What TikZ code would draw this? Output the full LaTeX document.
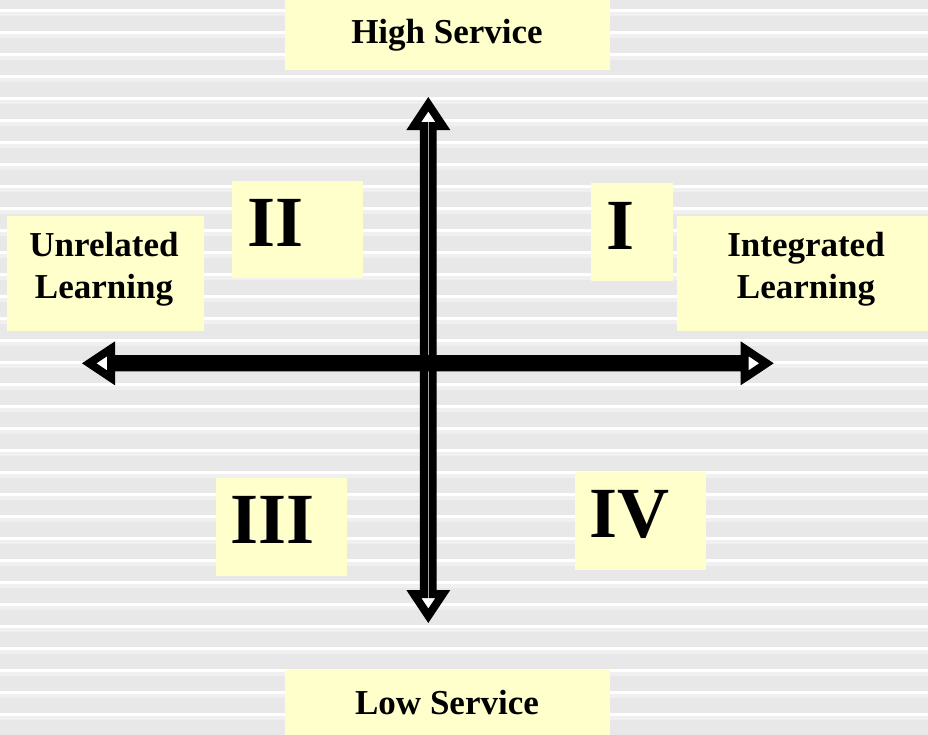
\documentclass[tikz,border=0pt]{standalone}
\usepackage{fontspec}
\setmainfont{Liberation Serif}
\definecolor{boxyellow}{HTML}{FFFFCC}
\definecolor{bandgray}{HTML}{E8E8E8}
\definecolor{bandlight}{HTML}{F0F0F0}
\begin{document}
\begin{tikzpicture}[x=0.75pt,y=-0.75pt,
  box/.style={fill=boxyellow},
  lbl/.style={font=\fontsize{26.25}{31.5}\selectfont\bfseries, inner sep=0pt, align=center, anchor=base},
  num/.style={font=\fontsize{54}{60}\selectfont\bfseries, inner sep=0pt, anchor=base west},
  axis/.style={draw=black, fill=white, line width=6pt, miter limit=10}]
\useasboundingbox (0,0) rectangle (928,735);
% striped background
\fill[white] (0,0) rectangle (928,735);
\foreach \n in {-1,...,32} {
  \pgfmathsetmacro\ya{10.7+22*\n+1.5}
  \pgfmathsetmacro\yc{10.7+22*\n+5}
  \pgfmathsetmacro\yb{10.7+22*\n+20.5}
  \fill[bandgray] (0,\ya) rectangle (928,\yb);
  \fill[bandlight] (0,\ya) rectangle (928,\yc);
}
% yellow boxes
\fill[box] (285,0) rectangle (610,70);
\fill[box] (285,670) rectangle (610,735);
\fill[box] (7,216) rectangle (204,331);
\fill[box] (677,216) rectangle (928,331);
\fill[box] (232,181) rectangle (363,278);
\fill[box] (591,183) rectangle (673,281);
\fill[box] (216,478) rectangle (347,576);
\fill[box] (575,472) rectangle (706,570);
% vertical axis (block double arrow)
\draw[axis] (428.3,104.2) -- (442.8,126) -- (432.65,126) -- (432.65,594) -- (442.8,594)
  -- (428.3,615.8) -- (413.8,594) -- (423.95,594) -- (423.95,126) -- (413.8,126) -- cycle;
% horizontal axis (block double arrow)
\draw[axis] (89.2,363.3) -- (111,348.8) -- (111,359.2) -- (744.7,359.2) -- (744.7,348.8)
  -- (766.5,363.3) -- (744.7,377.8) -- (744.7,367.4) -- (111,367.4) -- (111,377.8) -- cycle;
% labels
\node[lbl] (high) at (447,44) {High Service};
\node[lbl] (low) at (447,714) {Low Service};
\node[lbl] (unrel) at (104,298) {Unrelated\\Learning};
\node[lbl] (integ) at (806,298) {Integrated\\Learning};
\node[num] (q2) at (247,246) {II};
\node[num] (q1) at (606,249) {I};
\node[num] (q3) at (230,543) {III};
\node[num] (q4) at (589,537) {IV};
\end{tikzpicture}
\end{document}
